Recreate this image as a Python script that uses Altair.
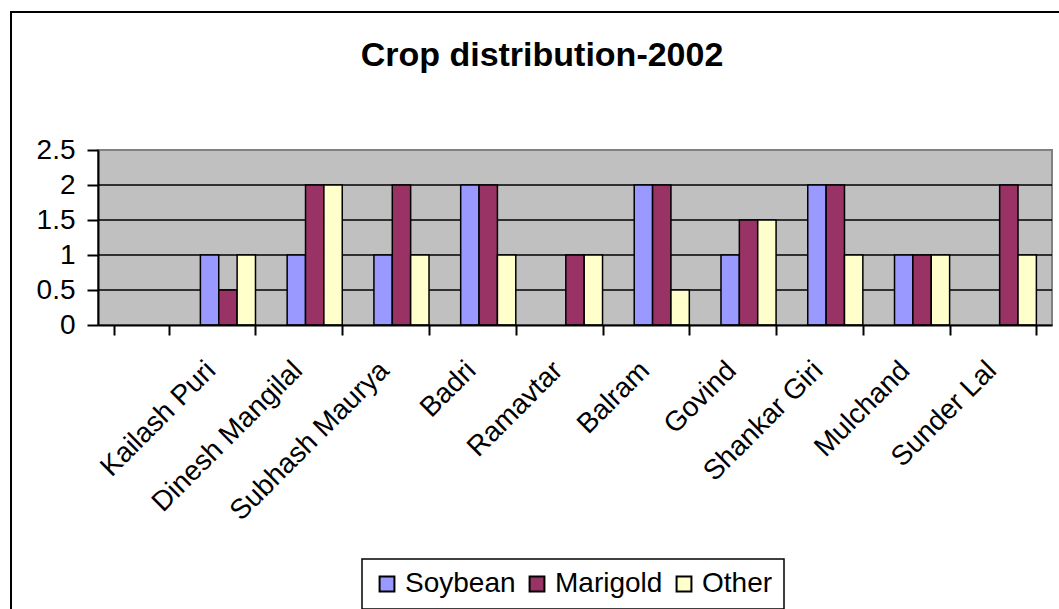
import altair as alt
import pandas as pd

# ---- data ----
categories = [" ", "Kailash Puri", "Dinesh Mangilal", "Subhash Maurya", "Badri",
              "Ramavtar", "Balram", "Govind", "Shankar Giri", "Mulchand", "Sunder Lal"]
names = categories[1:]
soybean = [1, 1, 1, 2, 0, 2, 1, 2, 1, 0]
marigold = [0.5, 2, 2, 2, 1, 2, 1.5, 2, 1, 2]
other = [1, 2, 1, 1, 1, 0.5, 1.5, 1, 1, 1]
crops = ["Soybean", "Marigold", "Other"]
crop_colors = ["#9999FF", "#993366", "#FFFFCC"]
y_ticks = [0, 0.5, 1, 1.5, 2, 2.5]
grid_values = [0.5, 1, 1.5, 2]

rows = []
for i, n in enumerate(names):
    for crop, series in zip(crops, [soybean, marigold, other]):
        rows.append({"name": n, "crop": crop, "v": series[i]})
df = pd.DataFrame(rows)

FONT = "Arial, Liberation Sans, sans-serif"

y_scale = alt.Scale(domain=[0, 2.5], nice=False, zero=True)
y_axis = alt.Axis(title=None, values=y_ticks, format=".1~f", grid=False,
                  labelFontSize=28, labelFont=FONT, labelColor="black",
                  labelPadding=12, tickSize=11, tickColor="black",
                  tickWidth=2, domainColor="black", domainWidth=2,
                  labelOverlap=False, labelBound=False, labelFlush=False,
                  zindex=1)

border = alt.Chart(pd.DataFrame({"a": [0]})).mark_rect(
    filled=False, stroke="black", strokeWidth=2
).encode(
    x=alt.value(-87), x2=alt.value(1300), y=alt.value(-138), y2=alt.value(800)
)

grid = alt.Chart(pd.DataFrame({"v": grid_values})).mark_rule(
    color="black", strokeWidth=1.5
).encode(
    y=alt.Y("v:Q", scale=y_scale, axis=y_axis)
)

bars = alt.Chart(df).transform_filter(alt.datum.v > 0).mark_bar(
    stroke="black", strokeWidth=1.5
).encode(
    x=alt.X("name:N", sort=categories,
            scale=alt.Scale(domain=categories, paddingInner=0.365, paddingOuter=0.18),
            axis=alt.Axis(title=None, labelAngle=315, labelAlign="right",
                          labelBaseline="middle", labelFontSize=28, labelFont=FONT,
                          labelColor="black", labelPadding=31, labelOffset=-17,
                          labelLimit=400,
                          tickBand="extent", tickSize=10, tickColor="black",
                          tickWidth=2, domainColor="black", domainWidth=2,
                          labelOverlap=False, zindex=1)),
    xOffset=alt.XOffset("crop:N", sort=crops,
                        scale=alt.Scale(domain=crops, paddingInner=0, paddingOuter=0)),
    y=alt.Y("v:Q", scale=y_scale, axis=y_axis),
    color=alt.Color("crop:N", sort=crops,
                    scale=alt.Scale(domain=crops, range=crop_colors),
                    legend=alt.Legend(title=None, orient="none", direction="horizontal",
                                      legendX=264, legendY=409, padding=11,
                                      strokeColor="black",
                                      fillColor="white",
                                      symbolType="square", symbolSize=220,
                                      symbolStrokeColor="black", symbolStrokeWidth=2,
                                      labelFontSize=28, labelFont=FONT,
                                      labelColor="black", labelOffset=4,
                                      columnPadding=7)),
)

chart = alt.layer(border, grid, bars).properties(
    width=954,
    height=175,
    background="white",
    title=alt.TitleParams("Crop distribution-2002", fontSize=34, font=FONT,
                          fontWeight="bold", color="black", anchor="middle",
                          frame="group", dx=-33, offset=-62),
    autosize=alt.AutoSizeParams(type="none"),
    padding={"left": 98, "top": 150, "right": 7, "bottom": 284},
).configure_view(
    fill="#C0C0C0", stroke="#808080", strokeWidth=2
).configure_legend(
    strokeWidth=1.5
)

chart.save("out.html", embed_options={"renderer": "svg", "actions": False})
